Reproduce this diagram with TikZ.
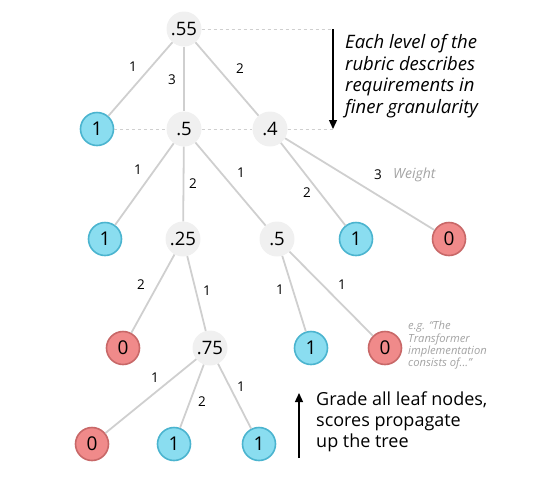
\documentclass[tikz,border=0pt]{standalone}
\usepackage{fontspec}
\setmainfont{Open Sans}
\usetikzlibrary{arrows.meta}
\definecolor{bluefill}{HTML}{8ADDF0}
\definecolor{blueline}{HTML}{4BB4CF}
\definecolor{redfill}{HTML}{F08A8A}
\definecolor{redline}{HTML}{C86868}
\definecolor{innerfill}{HTML}{F0F0F0}
\definecolor{edgecol}{HTML}{CFCFCF}
\definecolor{notecol}{HTML}{A3A3A3}
\tikzset{
  inner/.style={circle, fill=innerfill, minimum size=35pt, inner sep=0pt, font=\fontsize{18.5}{18.5}\selectfont},
  pass/.style={circle, fill=bluefill, draw=blueline, line width=1.6pt, minimum size=33pt, inner sep=0pt, font=\fontsize{19}{19}\selectfont},
  fail/.style={circle, fill=redfill, draw=redline, line width=1.6pt, minimum size=33pt, inner sep=0pt, font=\fontsize{19}{19}\selectfont},
  conn/.style={draw=edgecol, line width=1.8pt},
  guide/.style={draw=edgecol, line width=1pt, dash pattern=on 3pt off 3pt},
  lbl/.style={font=\fontsize{13.5}{13.5}\selectfont, inner sep=0pt},
  note/.style={align=left, anchor=north west, inner sep=0pt},
  bigarrow/.style={line width=1.3pt, -{Triangle[width=8pt,length=9pt]}}
}
\begin{document}
\begin{tikzpicture}[x=1pt,y=-1pt]
\useasboundingbox (0,0) rectangle (554,483);
% nodes
\node[inner] (r) at (184,29) {.55};
\node[pass]  (a) at (97,129) {1};
\node[inner] (b) at (184,129) {.5};
\node[inner] (c) at (270,129) {.4};
\node[pass]  (d) at (105,239) {1};
\node[inner] (e) at (183,239) {.25};
\node[inner] (f) at (277,239) {.5};
\node[pass]  (g) at (356,239) {1};
\node[fail]  (h) at (449,239) {0};
\node[fail]  (i) at (123,348) {0};
\node[inner] (j) at (210,348) {.75};
\node[pass]  (k) at (311,348) {1};
\node[fail]  (l) at (385,348) {0};
\node[fail]  (m) at (92,444) {0};
\node[pass]  (n) at (174,444) {1};
\node[pass]  (o) at (259,444) {1};
\coordinate (t1) at (333,29);
\coordinate (t2) at (333,129);
\coordinate (u1) at (299,458);
\coordinate (u2) at (299,393);
% connectors
\path[conn] (r) -- (a) node[lbl] at (133,67) {1};
\path[conn] (r) -- (b) node[lbl] at (172,80) {3};
\path[conn] (r) -- (c) node[lbl] at (240,69) {2};
\path[conn] (b) -- (d) node[lbl] at (138,170) {1};
\path[conn] (b) -- (e) node[lbl] at (193,184) {2};
\path[conn] (b) -- (f) node[lbl] at (241,173) {1};
\path[conn] (c) -- (g) node[lbl] at (307,193) {2};
\path[conn] (c) -- (h) node[lbl] at (378,175) {3};
\path[conn] (e) -- (i) node[lbl] at (141,285) {2};
\path[conn] (e) -- (j) node[lbl] at (207,291) {1};
\path[conn] (f) -- (k) node[lbl] at (280,290) {1};
\path[conn] (f) -- (l) node[lbl] at (342,285) {1};
\path[conn] (j) -- (m) node[lbl] at (155,378) {1};
\path[conn] (j) -- (n) node[lbl] at (202,402) {2};
\path[conn] (j) -- (o) node[lbl] at (241,387) {1};
% guides
\path[guide] (r) -- (t1);
\path[guide] (a) -- (b);
\path[guide] (b) -- (c);
\path[guide] (c) -- (t2);
\draw[bigarrow] (t1) -- (t2);
\draw[bigarrow] (u1) -- (u2);
% texts
\node[note, font=\itshape\fontsize{18.5}{21.7}\selectfont] (txt1) at (345,34) {Each level of the\\rubric describes\\requirements in\\finer granularity};
\node[note, font=\fontsize{18}{21}\selectfont] (txt2) at (316,392) {Grade all leaf nodes,\\scores propagate\\up the tree};
\node[note, anchor=west, text=notecol, font=\itshape\fontsize{14}{14}\selectfont] (wt) at (393,175) {Weight};
\node[note, text=notecol, font=\itshape\fontsize{11.2}{12.3}\selectfont] (eg) at (408,321) {e.g. “The\\Transformer\\implementation\\consists of...”};
\end{tikzpicture}
\end{document}
